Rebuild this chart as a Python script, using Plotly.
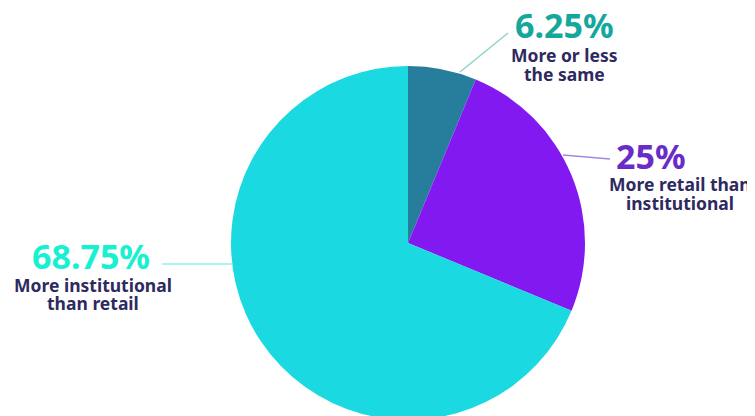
import plotly.graph_objects as go

# Data
categories = ["More or less the same", "More retail than institutional", "More institutional than retail"]
values = [6.25, 25, 68.75]
pct_labels = ["6.25%", "25%", "68.75%"]
desc_labels = ["More or less<br>the same", "More retail than<br>institutional", "More institutional<br>than retail"]

slice_colors = ["#267E9C", "#8219F0", "#1BD9E0"]
pct_colors = ["#14A89C", "#6A2CC6", "#18F0D2"]
line_colors = ["#8FD3CC", "#A389E2", "#8AF5E6"]
navy = "#2E2A60"

W, H = 755, 416
OFF = 8  # page body margin offset
ML, MR, MT, MB = 223, 178, 58, 4
PW, PH = W - ML - MR, H - MT - MB


def px(x):
    return (x - OFF - ML) / PW


def py(y):
    return (H - MB - (y - OFF)) / PH


fig = go.Figure(go.Pie(
    labels=categories,
    values=values,
    sort=False,
    direction="clockwise",
    rotation=0,
    marker=dict(colors=slice_colors, line=dict(width=0)),
    textinfo="none",
    hoverinfo="label+percent",
    showlegend=False,
))

font_family = "Noto Sans, Lato, sans-serif"

# label positions (screenshot pixel space)
num_pos = [(564, 25), (651, 156), (91, 256)]
desc_x = [564, 680, 93]
desc_y = [(55, 74), (184, 203), (285, 303)]
leaders = [((460, 72), (508, 33)), ((563, 155), (610, 159)), ((162, 264), (232, 264))]

annotations = []
shapes = []
for i in range(3):
    nx, ny = num_pos[i]
    annotations.append(dict(
        x=px(nx), y=py(ny), xref="paper", yref="paper",
        text="<b>%s</b>" % pct_labels[i], showarrow=False,
        xanchor="center", yanchor="middle",
        font=dict(family=font_family, size=34, color=pct_colors[i]),
    ))
    for line_text, ly in zip(desc_labels[i].split("<br>"), desc_y[i]):
        annotations.append(dict(
            x=px(desc_x[i]), y=py(ly), xref="paper", yref="paper",
            text="<b>%s</b>" % line_text, showarrow=False,
            xanchor="center", yanchor="middle", align="center",
            font=dict(family=font_family, size=17.5, color=navy),
        ))
    (x0, y0), (x1, y1) = leaders[i]
    shapes.append(dict(
        type="line", xref="paper", yref="paper",
        x0=px(x0), y0=py(y0), x1=px(x1), y1=py(y1),
        line=dict(color=line_colors[i], width=1.5),
    ))

fig.update_layout(
    width=W, height=H,
    margin=dict(l=ML, r=MR, t=MT, b=MB, pad=0),
    paper_bgcolor="white",
    plot_bgcolor="white",
    annotations=annotations,
    shapes=shapes,
)

fig.write_html("out.html")
